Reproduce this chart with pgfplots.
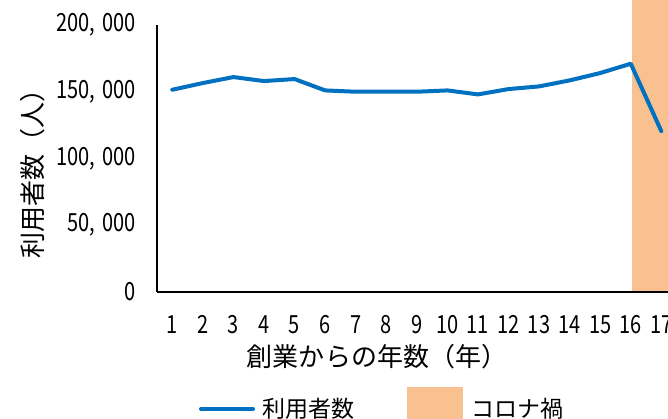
\documentclass[border=0pt]{standalone}
\usepackage{fontspec}
\setmainfont{Noto Sans CJK JP}
\newfontfamily\tickfont[FakeStretch=0.8]{Noto Sans CJK JP}
\usepackage{pgfplots}
\pgfplotsset{compat=1.18}
\definecolor{lineblue}{RGB}{0,112,192}
\definecolor{coronaorange}{RGB}{248,193,143}
\begin{document}
\begin{tikzpicture}
\begin{axis}[
    scale only axis,
    width=519.6pt, height=267pt,
    xmin=0.5, xmax=17.5,
    ymin=0, ymax=200000,
    clip=false,
    axis on top,
    axis x line=bottom, axis y line=left,
    axis line style={-, line width=2pt, black},
    xtick={1,...,17},
    ytick={0,50000,100000,150000,200000},
    major tick length=0pt,
    scaled y ticks=false,
    /pgf/number format/assume math mode=true,
    /pgf/number format/fixed,
    /pgf/number format/precision=0,
    /pgf/number format/1000 sep={,\hspace{7pt}},
    ticklabel style={font=\tickfont\fontsize{25}{30}\selectfont, inner sep=0pt},
    yticklabel style={anchor=east, xshift=-21pt},
    xticklabel style={anchor=north, yshift=-23pt},
    xlabel={創業からの年数（年）},
    ylabel={利用者数（人）},
    label style={font=\fontsize{26}{31}\selectfont, inner sep=0pt},
    xlabel style={at={(axis description cs:0.4234,-0.2434)}, anchor=center},
    ylabel style={at={(axis description cs:-0.2386,0.468)}, anchor=center},
    legend columns=2,
    legend cell align=left,
    legend style={draw=none, fill=none, inner sep=0pt, outer sep=0pt,
        at={(axis description cs:0.0809,-0.4382)}, anchor=west,
        font=\fontsize{23}{28}\selectfont,
        nodes={inner sep=0pt},
        /tikz/column 1/.style={column sep=7pt},
        /tikz/column 2/.style={column sep=53pt},
        /tikz/column 3/.style={column sep=9pt}},
]
% コロナ禍の期間
\addplot[draw=none, fill=coronaorange, forget plot]
    coordinates {(16.05,0)(16.05,240000)(17.5,240000)(17.5,0)} -- cycle;

\addplot[color=lineblue, line width=4pt, line join=round, line cap=round,
    legend image code/.code={\draw[lineblue, line width=4pt, line cap=round] (2pt,0pt) -- (54pt,0pt);}]
    coordinates {
    (1,151500)(2,156500)(3,161000)(4,158000)(5,159500)(6,151000)
    (7,150000)(8,150000)(9,150000)(10,151000)(11,148000)(12,152000)
    (13,154000)(14,158500)(15,164000)(16,171000)(17,120500)
    };
\addlegendentry{利用者数}
\addlegendimage{legend image code/.code={\fill[coronaorange] (0pt,-22pt) rectangle (55pt,22pt);}}
\addlegendentry{コロナ禍}
\end{axis}
\pgfresetboundingbox
\useasboundingbox (-157pt,-127pt) rectangle (511pt,292pt);
\end{tikzpicture}
\end{document}
